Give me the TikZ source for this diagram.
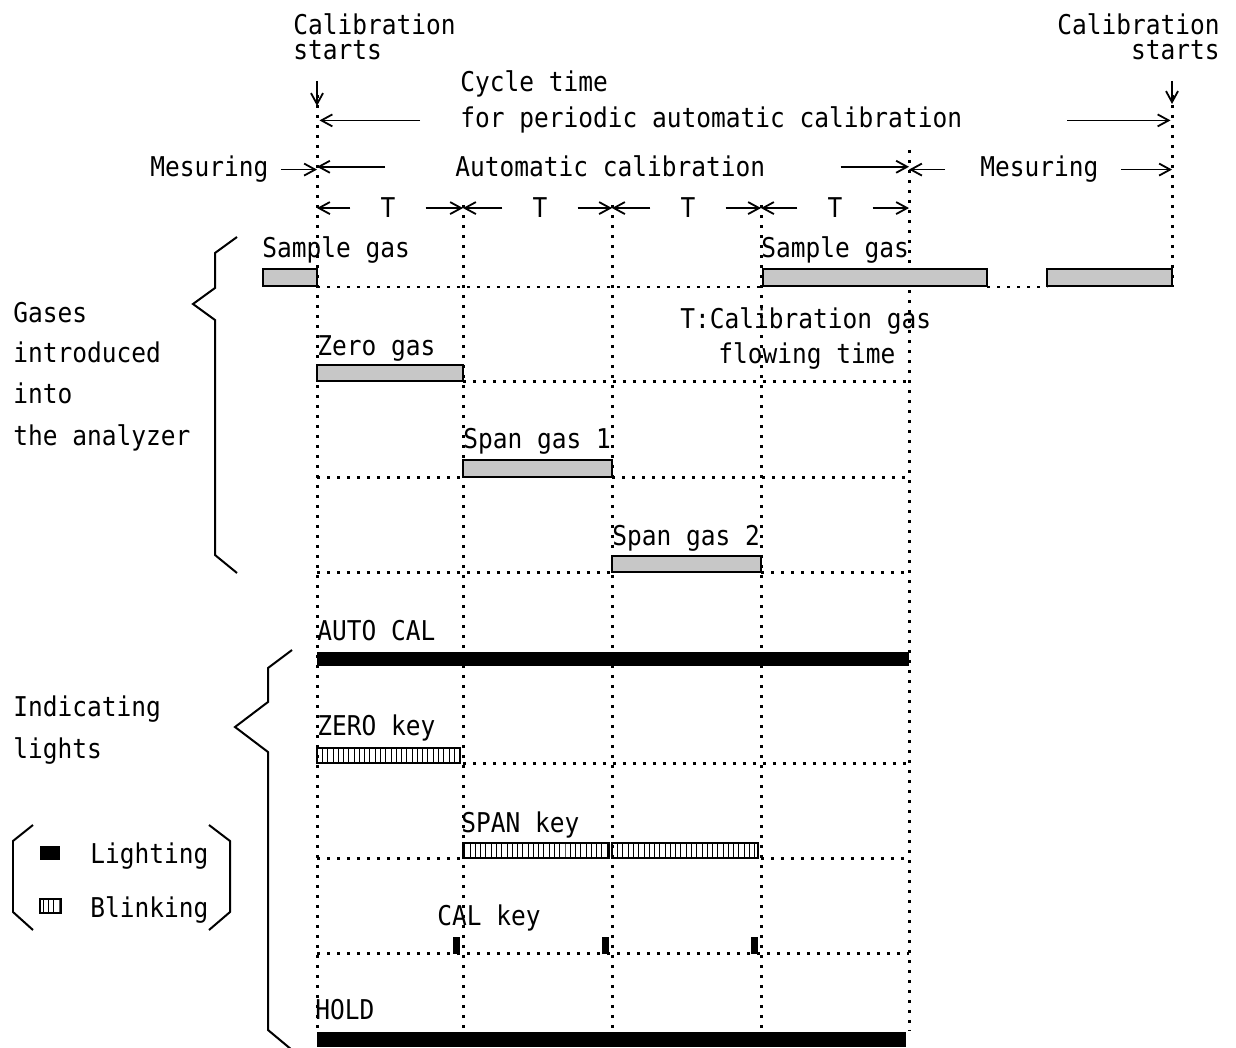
\documentclass[tikz,border=0pt]{standalone}
\usepackage{fontspec}
\newfontfamily\chartfont{DejaVu Sans Mono}[FakeStretch=0.9]
\usetikzlibrary{arrows.meta,patterns}

\tikzset{
  lbl/.style={anchor=base west,inner sep=0pt,
              font=\chartfont\fontsize{15.5pt}{18pt}\selectfont},
  lblr/.style={lbl,anchor=base east},
  gridline/.style={line width=0.06cm,dash pattern=on 0.06cm off 0.14cm},
  dimarrow/.style={line width=0.036cm,
                   -{Straight Barb[length=0.22cm,width=0.24cm]}},
  gasbar/.style={draw,line width=0.045cm,fill=black!22},
  litbar/.style={fill=black},
  blinkbar/.style={draw,line width=0.045cm,pattern=vertical lines},
  brace/.style={line width=0.04cm,line join=miter}
}

\begin{document}
\begin{tikzpicture}[x=0.02cm,y=-0.02cm]
  \useasboundingbox (0,0) rectangle (1236,1047);
  % time marks of the cycle
  \coordinate (t0) at (317,0);
  \coordinate (t1) at (463,0);
  \coordinate (t2) at (612,0);
  \coordinate (t3) at (761,0);
  \coordinate (t4) at (909,0);
  \coordinate (t5) at (1172,0);
  \foreach \x/\top/\bot in {317/95/1030, 463/205/1030, 612/205/1030,
                            761/205/1030, 909/150/1030, 1172/95/287}
     { \draw[gridline] (\x,\top) -- (\x,\bot); }

  % header: calibration starts, cycle time, phases
  \node[lbl]  (calL1) at (293,35) {Calibration};
  \node[lbl]  (calL2) at (293,60) {starts};
  \node[lblr] (calR1) at (1220,35) {Calibration};
  \node[lblr] (calR2) at (1220,60) {starts};
  \draw[dimarrow] ([yshift=-0.42cm]t0 |- calL2.base) -- ++(0,25);
  \draw[dimarrow] ([yshift=-0.42cm]t5 |- calR2.base) -- ++(0,23);

  \node[lbl] (cycle1) at (460,92)  {Cycle time};
  \node[lbl] (cycle2) at (460,128) {for periodic automatic calibration};
  \draw[dimarrow] ([xshift=-0.8cm]cycle2.west) -- ([xshift=0.05cm]t0 |- cycle2.west);
  \draw[dimarrow] ([xshift=2.1cm]cycle2.east) -- ([xshift=-0.03cm]t5 |- cycle2.east);

  \node[lbl] (mesL) at (150,177) {Mesuring};
  \node[lbl] (autocal) at (455,177) {Automatic calibration};
  \node[lbl] (mesR) at (980,177) {Mesuring};
  \draw[dimarrow] ([xshift=0.24cm]mesL.east) -- (t0 |- mesL.east);
  \draw[dimarrow] ([xshift=-1.4cm]autocal.west) -- (t0 |- autocal.west);
  \draw[dimarrow] ([xshift=1.5cm]autocal.east) -- (t4 |- autocal.east);
  \draw[dimarrow] ([xshift=-0.7cm]mesR.west) -- (t4 |- mesR.west);
  \draw[dimarrow] ([xshift=0.45cm]mesR.east) -- (t5 |- mesR.east);

  \foreach \i/\x/\a/\b in {1/388/t0/t1, 2/540/t1/t2, 3/688/t2/t3, 4/835/t3/t4}
     { \node[lbl,anchor=base] (T\i) at (\x,218) {T};
       \draw[dimarrow] ([xshift=-0.6cm]T\i.west) -- (\a |- T\i.west);
       \draw[dimarrow] ([xshift=0.6cm]T\i.east) -- (\b |- T\i.east); }

  % gases introduced into the analyzer
  \node[lbl] (gas1) at (13,322) {Gases};
  \node[lbl] (gas2) at (13,362) {introduced};
  \node[lbl] (gas3) at (13,403) {into};
  \node[lbl] (gas4) at (13,445) {the analyzer};
  \draw[brace] (237,237) -- (215,253) -- (215,288) -- (193,304)
               -- (215,320) -- (215,555) -- (237,573);

  \node[lbl] (sampL) at (262,258) {Sample gas};
  \node[lbl] (sampR) at (761,257) {Sample gas};
  \node[lbl] (tnote1) at (680,328) {T:Calibration gas};
  \node[lbl] (tnote2) at (718,363) {flowing time};
  \node[lbl] (zero)  at (317,355) {Zero gas};
  \node[lbl] (span1) at (463,448) {Span gas 1};
  \node[lbl] (span2) at (612,545) {Span gas 2};

  \draw[gridline] (317,287) -- (761,287);
  \draw[gridline] (987,287) -- (1047,287);
  \draw[gridline] (463,381) -- (909,381);
  \draw[gridline] (317,477) -- (463,477);
  \draw[gridline] (612,477) -- (909,477);
  \draw[gridline] (317,572) -- (612,572);
  \draw[gridline] (761,572) -- (909,572);

  \draw[gasbar] (263,269) rectangle (317,286);
  \draw[gasbar] (763,269) rectangle (987,286);
  \draw[gasbar] (1047,269) rectangle (1172,286);
  \draw[gasbar] (317,365) rectangle (463,381);
  \draw[gasbar] (463,460) rectangle (612,477);
  \draw[gasbar] (612,556) rectangle (761,572);

  % indicating lights
  \node[lbl] (ind1) at (13,716) {Indicating};
  \node[lbl] (ind2) at (13,758) {lights};
  \draw[brace] (292,650) -- (268,668) -- (268,702) -- (235,727)
               -- (268,752) -- (268,1030) -- (292,1050);

  \node[lbl] (autokey) at (317,640) {AUTO CAL};
  \node[lbl] (zerokey) at (317,735) {ZERO key};
  \node[lbl] (spankey) at (461,832) {SPAN key};
  \node[lbl] (calkey)  at (437,925) {CAL key};
  \node[lbl] (holdkey) at (315,1019) {HOLD};

  \draw[gridline] (463,763) -- (909,763);
  \draw[gridline] (317,858) -- (463,858);
  \draw[gridline] (761,858) -- (909,858);
  \draw[gridline] (317,953) -- (909,953);

  \fill[litbar] (317,652) rectangle (909,666);
  \draw[blinkbar] (317,748) rectangle (460,763);
  \draw[blinkbar] (463,843) rectangle (609,858);
  \draw[blinkbar] (612,843) rectangle (758,858);
  \foreach \x in {463,612,761}
     { \fill[litbar] (\x-10,937) rectangle (\x-3,954); }
  \fill[litbar] (317,1032) rectangle (906,1047);

  % legend
  \draw[brace] (33,825) -- (13,841) -- (13,912) -- (33,930);
  \draw[brace] (209,825) -- (230,841) -- (230,912) -- (209,930);
  \fill[litbar] (40,846) rectangle (60,860);
  \draw[blinkbar] (40,899) rectangle (61,913);
  \node[lbl] (lighting) at (90,863) {Lighting};
  \node[lbl] (blinking) at (90,917) {Blinking};
\end{tikzpicture}
\end{document}
